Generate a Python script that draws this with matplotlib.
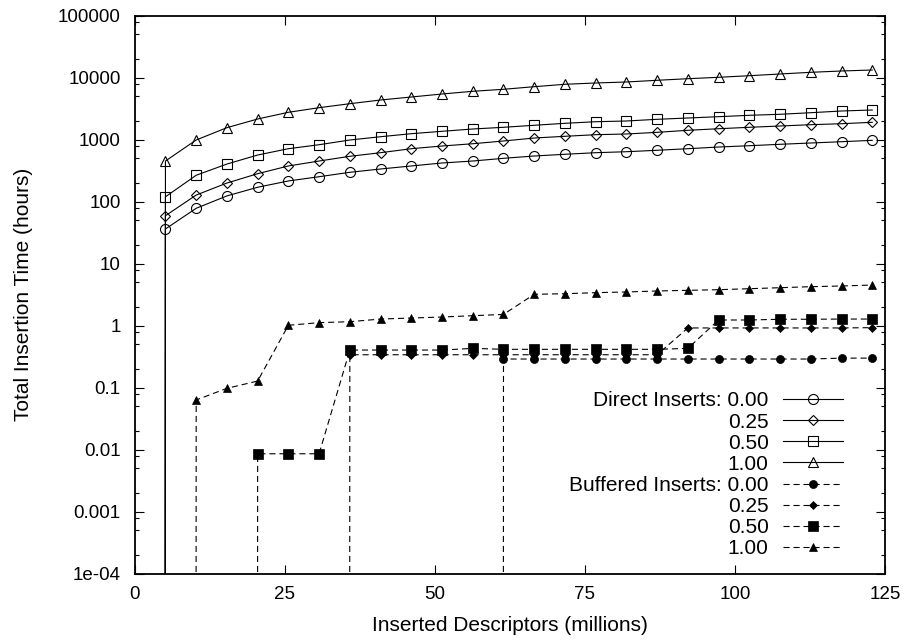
import matplotlib
matplotlib.use('Agg')
import matplotlib.pyplot as plt
from matplotlib.ticker import LogLocator, FixedLocator, FixedFormatter, NullFormatter

plt.rcParams['font.family'] = ['Liberation Sans', 'DejaVu Sans']

# inserted descriptors (millions)
inserted = [0, 5.12, 10.24, 15.36, 20.48, 25.6, 30.72, 35.84, 40.96, 46.08,
            51.2, 56.32, 61.44, 66.56, 71.68, 76.8, 81.92, 87.04, 92.16,
            97.28, 102.4, 107.52, 112.64, 117.76, 122.88]

# total insertion time (hours), direct inserts
direct_000 = [0, 36.3, 78.3, 124, 171, 216, 253, 298, 337, 377, 421, 453, 501,
              546, 582, 617, 640, 675, 716, 762, 800, 843, 885, 928, 977]
direct_025 = [0, 59.4, 128, 200, 283, 377, 453, 540, 617, 716, 791, 861, 953,
              1065, 1135, 1205, 1236, 1315, 1418, 1504, 1585, 1663, 1746, 1811, 1908]
direct_050 = [0, 120, 267, 405, 566, 716, 830, 989, 1117, 1250, 1366, 1488, 1585,
              1708, 1839, 1950, 2003, 2133, 2239, 2350, 2475, 2570, 2725, 2904, 3013]
direct_100 = [0, 453, 989, 1563, 2157, 2767, 3283, 3808, 4369, 4885, 5458, 6037,
              6501, 7161, 7832, 8220, 8530, 9085, 9637, 10150, 10770, 11480,
              12220, 12830, 13310]

# total insertion time (hours), buffered inserts
buffered_000 = [0, 0, 0, 0, 0, 0, 0, 0, 0, 0, 0, 0, 0.29, 0.29, 0.29, 0.29,
                0.29, 0.29, 0.29, 0.29, 0.29, 0.29, 0.29, 0.30, 0.30]
buffered_025 = [0, 0, 0, 0, 0, 0, 0, 0.34, 0.34, 0.34, 0.34, 0.34, 0.34, 0.34,
                0.34, 0.34, 0.34, 0.34, 0.92, 0.92, 0.92, 0.92, 0.92, 0.92, 0.93]
buffered_050 = [0, 0, 0, 0, 0.0086, 0.0086, 0.0086, 0.405, 0.405, 0.405, 0.405,
                0.431, 0.416, 0.416, 0.416, 0.416, 0.416, 0.416, 0.431, 1.236,
                1.236, 1.27, 1.27, 1.28, 1.28]
buffered_100 = [0, 0, 0.0634, 0.0977, 0.128, 1.015, 1.12, 1.16, 1.28, 1.33, 1.38,
                1.45, 1.52, 3.21, 3.28, 3.41, 3.50, 3.63, 3.72, 3.81, 3.95, 4.10,
                4.26, 4.37, 4.53]

labels = ['Direct Inserts: 0.00', '0.25', '0.50', '1.00',
          'Buffered Inserts: 0.00', '0.25', '0.50', '1.00']

y_ticks = [1e-4, 1e-3, 1e-2, 1e-1, 1, 10, 100, 1000, 10000, 100000]
y_tick_labels = ['1e-04', '0.001', '0.01', '0.1', '1', '10', '100', '1000',
                 '10000', '100000']
x_ticks = [0, 25, 50, 75, 100, 125]

fig = plt.figure(figsize=(9.06, 6.41), dpi=100)
ax = fig.add_axes([0.1487, 0.105, 0.8281, 0.8705])
ax.set_yscale('log')

direct = [direct_000, direct_025, direct_050, direct_100]
buffered = [buffered_000, buffered_025, buffered_050, buffered_100]
markers = ['o', 'D', 's', '^']
open_sizes = [7.2, 5.0, 6.8, 7.2]
filled_sizes = [5.8, 4.0, 6.7, 5.8]

for i, series in enumerate(direct):
    ax.plot(inserted, series, color='black', lw=0.8, marker=markers[i],
            ms=open_sizes[i], mfc='none', mec='black', mew=0.8,
            label=labels[i])

for i, series in enumerate(buffered):
    ax.plot(inserted, series, color='black', lw=0.8, dashes=(5.5, 3.5),
            marker=markers[i], ms=filled_sizes[i], mfc='black', mec='black',
            mew=0.5, label=labels[4 + i])

ax.set_xlim(0, 125)
ax.set_ylim(1e-4, 1e5)
ax.set_xticks(x_ticks)
ax.yaxis.set_major_locator(FixedLocator(y_ticks))
ax.yaxis.set_major_formatter(FixedFormatter(y_tick_labels))
ax.yaxis.set_minor_locator(LogLocator(base=10, subs=(2, 5, 8), numticks=20))
ax.yaxis.set_minor_formatter(NullFormatter())

ax.tick_params(which='both', direction='in', top=True, right=True,
               width=0.8, labelsize=13.5)
ax.tick_params(which='major', length=6.5)
ax.tick_params(which='minor', length=3.2)
ax.tick_params(axis='x', pad=9)
ax.tick_params(axis='y', pad=10)
for s in ax.spines.values():
    s.set_linewidth(1.3)

ax.set_xlabel('Inserted Descriptors (millions)', fontsize=15, va='top')
ax.set_ylabel('Total Insertion Time (hours)', fontsize=15)
ax.xaxis.set_label_coords(0.5, -0.076)
ax.yaxis.set_label_coords(-0.135, 0.5)

ax.legend(loc='lower right', bbox_to_anchor=(0.944, 0.028), frameon=False,
          markerfirst=False, fontsize=15, handlelength=2.9,
          handletextpad=0.67, labelspacing=0.1, borderpad=0,
          borderaxespad=0)

fig.savefig('out.png', dpi=100)
